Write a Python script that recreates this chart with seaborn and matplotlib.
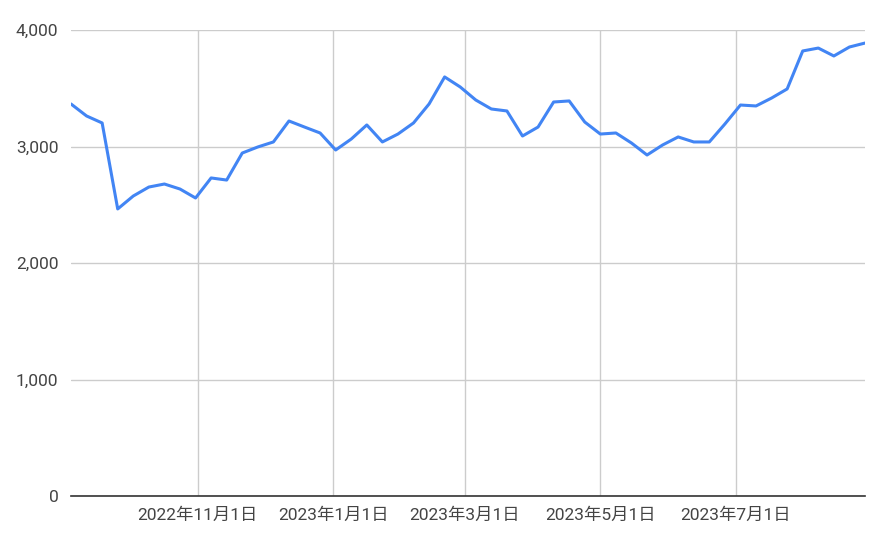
import matplotlib
matplotlib.use("Agg")
import matplotlib.pyplot as plt
import seaborn as sns
import pandas as pd

dates = pd.date_range("2022-09-05", periods=52, freq="7D")
values = [3365, 3262, 3202, 2464, 2575, 2652, 2678, 2635, 2558, 2730,
          2712, 2944, 2996, 3039, 3219, 3167, 3116, 2970, 3064, 3185,
          3039, 3107, 3202, 3365, 3597, 3511, 3399, 3322, 3305, 3090,
          3167, 3382, 3391, 3210, 3107, 3116, 3030, 2927, 3013, 3082,
          3039, 3039, 3193, 3356, 3348, 3416, 3494, 3820, 3845, 3777,
          3854, 3888]
tick_dates = ["2022-11-01", "2023-01-01", "2023-03-01", "2023-05-01", "2023-07-01"]
tick_labels = ["2022年11月1日", "2023年1月1日", "2023年3月1日", "2023年5月1日", "2023年7月1日"]
y_ticks = [0, 1000, 2000, 3000, 4000]

df = pd.DataFrame({"date": dates, "value": values})

sns.set_theme(style="white")
plt.rcParams["font.family"] = ["Roboto", "Noto Sans CJK JP", "DejaVu Sans"]

fig = plt.figure(figsize=(8.7, 5.36), dpi=100)
ax = fig.add_axes([71/870, 1 - 496/536, (865-71)/870, (496-30)/536])

sns.lineplot(data=df, x="date", y="value", ax=ax, color="#4285F4", linewidth=2.2)

ax.set_xlim(dates[0], dates[-1])
ax.set_ylim(0, 4000)
ax.set_yticks(y_ticks)
ax.set_yticklabels([f"{v:,}" for v in y_ticks])
ax.set_xticks(pd.to_datetime(tick_dates))
ax.set_xticklabels(tick_labels)
ax.set_xlabel("")
ax.set_ylabel("")

ax.grid(True, color="#cccccc", linewidth=1)
ax.set_axisbelow(True)
for s in ["top", "right", "left"]:
    ax.spines[s].set_visible(False)
ax.spines["bottom"].set_color("#333333")
ax.spines["bottom"].set_linewidth(1.2)
ax.tick_params(axis="both", length=0, labelsize=12.5, colors="#444444")
ax.tick_params(axis="y", pad=9)
ax.tick_params(axis="x", pad=8)

fig.savefig("out.png", dpi=100)
